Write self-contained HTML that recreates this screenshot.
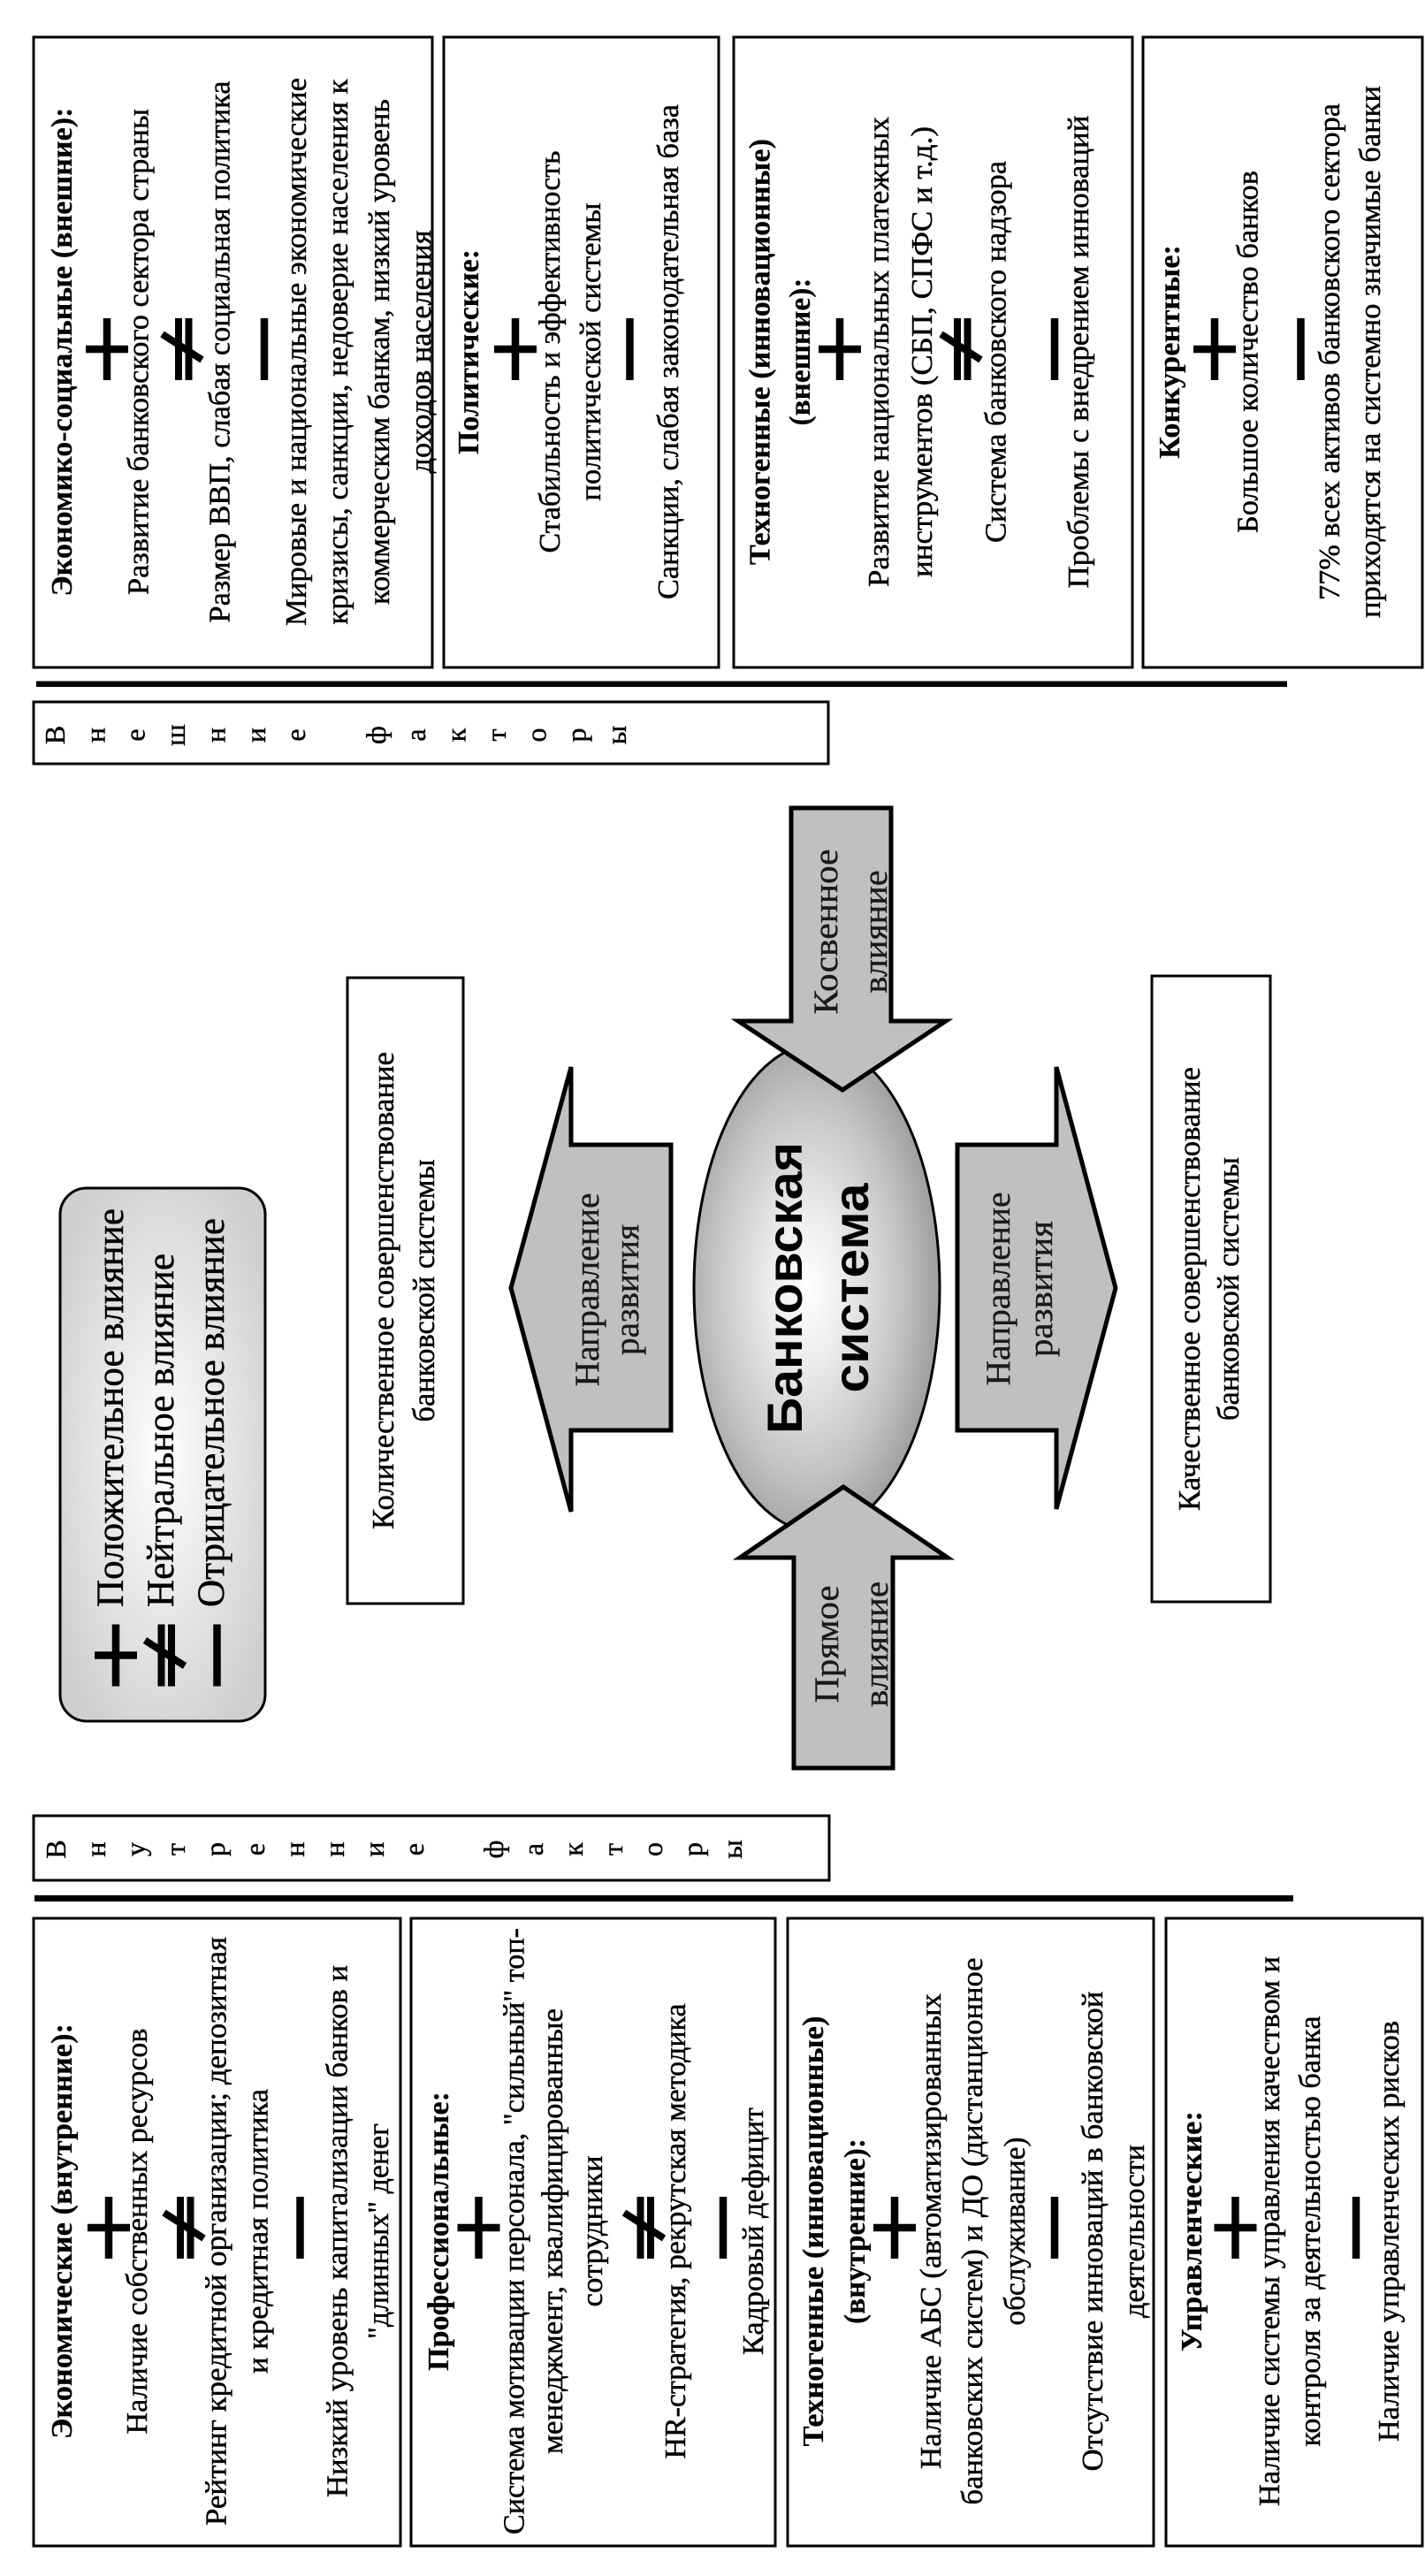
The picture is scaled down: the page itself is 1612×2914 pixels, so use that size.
<!DOCTYPE html>
<html><head><meta charset="utf-8">
<style>
html,body{margin:0;padding:0;background:#fff;}
body{width:1612px;height:2914px;overflow:hidden;}
svg{display:block;}
.t{font-family:"Liberation Serif","Times New Roman",serif;font-size:34px;fill:#000;stroke:#000;stroke-width:0.45px;}
.b{font-weight:bold;stroke-width:0.2px;}
.c{text-anchor:middle;}
.s{font-family:"Liberation Serif","Times New Roman",serif;font-size:32px;fill:#000;text-anchor:middle;stroke:#000;stroke-width:0.4px;}
.a{font-family:"Liberation Serif","Times New Roman",serif;font-size:39px;fill:#1a1a1a;text-anchor:middle;stroke:#1a1a1a;stroke-width:0.35px;}
.bx{fill:#fff;stroke:#000;stroke-width:3;}
</style></head><body>
<svg xmlns="http://www.w3.org/2000/svg" width="1612" height="2914" viewBox="0 0 1612 2914">
<defs>
<radialGradient id="eg" cx="50%" cy="46%" r="52%">
<stop offset="0" stop-color="#ffffff"/><stop offset="0.3" stop-color="#ececec"/><stop offset="0.75" stop-color="#c2c2c2"/><stop offset="1" stop-color="#a2a2a2"/>
</radialGradient>
<radialGradient id="lg" cx="50%" cy="50%" r="60%">
<stop offset="0" stop-color="#ffffff"/><stop offset="1" stop-color="#cfcfcf"/>
</radialGradient>
</defs>
<rect x="0" y="0" width="1612" height="2914" fill="#fff"/>
<g transform="translate(0 2914) rotate(-90)">

<!-- External boxes -->
<rect class="bx" x="2159" y="38" width="713" height="451"/>
<rect class="bx" x="2159" y="502" width="713" height="311"/>
<rect class="bx" x="2159" y="830" width="713" height="451"/>
<rect class="bx" x="2159" y="1293" width="713" height="316"/>

<!-- Internal boxes -->
<rect class="bx" x="34" y="38" width="710" height="415"/>
<rect class="bx" x="34" y="465" width="710" height="412"/>
<rect class="bx" x="34" y="891" width="710" height="414"/>
<rect class="bx" x="34" y="1319" width="710" height="290"/>

<!-- thick lines -->
<rect x="2137" y="41" width="6.5" height="1415" fill="#000"/>
<rect x="763" y="39" width="7" height="1424" fill="#000"/>

<!-- factor label boxes -->
<rect class="bx" x="2050" y="38" width="70" height="899"/>
<rect class="bx" x="787" y="38" width="73" height="900"/>

<!-- legend -->
<rect x="967" y="68" width="603" height="232" rx="30" ry="30" fill="url(#lg)" stroke="#000" stroke-width="3"/>

<!-- outcome boxes -->
<rect class="bx" x="1100" y="393" width="708" height="131"/>
<rect class="bx" x="1102" y="1303" width="708" height="134"/>

<!-- ellipse -->
<ellipse cx="1457" cy="924" rx="276" ry="139" fill="url(#eg)" stroke="#000" stroke-width="3"/>

<!-- arrows -->
<polygon points="1457,578 1707,646 1619,646 1619,759 1296,759 1296,646 1204,646" fill="#c0c0c0" stroke="#000" stroke-width="5" stroke-linejoin="miter"/>
<polygon points="1457,1262 1707,1195 1619,1195 1619,1083 1296,1083 1296,1195 1207,1195" fill="#c0c0c0" stroke="#000" stroke-width="5" stroke-linejoin="miter"/>
<polygon points="2000,895 1759,895 1759,835 1681,953 1759,1070 1759,1008 2000,1008" fill="#c0c0c0" stroke="#000" stroke-width="5" stroke-linejoin="miter"/>
<polygon points="914,898 1152,898 1152,837 1232,954 1152,1072 1152,1010 914,1010" fill="#c0c0c0" stroke="#000" stroke-width="5" stroke-linejoin="miter"/>

<!-- symbols external (cx 2519) -->
<g fill="#000">
<path d="M2484 116.75h70v8.5h-70z M2514.75 97h8.5v48h-8.5z"/>
<rect x="2484" y="198" width="70" height="8"/><rect x="2484" y="209.5" width="70" height="8"/>
<rect x="2484" y="294.75" width="70" height="8.5"/>
<path d="M2484 578.75h70v8.5h-70z M2514.75 559h8.5v48h-8.5z"/>
<rect x="2484" y="708.25" width="70" height="8.5"/>
<path d="M2484 945.75h70v8.5h-70z M2514.75 926h8.5v48h-8.5z"/>
<rect x="2484" y="1079" width="70" height="8"/><rect x="2484" y="1090.5" width="70" height="8"/>
<rect x="2484" y="1188.75" width="70" height="8.5"/>
<path d="M2484 1369.75h70v8.5h-70z M2514.75 1350h8.5v48h-8.5z"/>
<rect x="2484" y="1467.25" width="70" height="8.5"/>

<!-- internal (cx 394) -->
<path d="M359 118.75h70v8.5h-70z M389.75 99h8.5v48h-8.5z"/>
<rect x="359" y="200" width="70" height="8"/><rect x="359" y="211.5" width="70" height="8"/>
<rect x="359" y="335.25" width="70" height="8.5"/>
<path d="M359 537.25h70v8.5h-70z M389.75 517.5h8.5v48h-8.5z"/>
<rect x="359" y="720.5" width="70" height="8"/><rect x="359" y="732" width="70" height="8"/>
<rect x="359" y="813.75" width="70" height="8.5"/>
<path d="M359 1007.75h70v8.5h-70z M389.75 988h8.5v48h-8.5z"/>
<rect x="359" y="1188.75" width="70" height="8.5"/>
<path d="M359 1393.25h70v8.5h-70z M389.75 1373.5h8.5v48h-8.5z"/>
<rect x="359" y="1529.75" width="70" height="8.5"/>

<!-- legend (cx 1041.5) -->
<path d="M1006.5 126.75h70v8.5h-70z M1037.25 107h8.5v48h-8.5z"/>
<rect x="1006.5" y="178.5" width="70" height="8"/><rect x="1006.5" y="190" width="70" height="8"/>
<rect x="1006.5" y="241.25" width="70" height="8.5"/>
</g>
<g stroke="#000" stroke-width="8" stroke-linecap="butt">
<line x1="2536" y1="183.5" x2="2507" y2="228.5"/>
<line x1="2536" y1="1064.5" x2="2507" y2="1109.5"/>
<line x1="411" y1="185.5" x2="382" y2="230.5"/>
<line x1="411" y1="706" x2="382" y2="751"/>
<line x1="1058.5" y1="164" x2="1029.5" y2="209"/>
</g>

<!-- External box 1 text -->
<text class="t b c" x="2516" y="81" textLength="553" lengthAdjust="spacingAndGlyphs">Экономико-социальные (внешние):</text>
<text class="t c" x="2516" y="167.5" textLength="550" lengthAdjust="spacingAndGlyphs">Развитие банковского сектора страны</text>
<text class="t c" x="2516" y="259.5" textLength="613" lengthAdjust="spacingAndGlyphs">Размер ВВП, слабая социальная политика</text>
<text class="t c" x="2516" y="346" textLength="620" lengthAdjust="spacingAndGlyphs">Мировые и национальные экономические</text>
<text class="t c" x="2516" y="393" textLength="617" lengthAdjust="spacingAndGlyphs">кризисы, санкции, недоверие населения к</text>
<text class="t c" x="2516" y="440" textLength="572" lengthAdjust="spacingAndGlyphs">коммерческим банкам, низкий уровень</text>
<text class="t c" x="2516" y="487" textLength="275" lengthAdjust="spacingAndGlyphs">доходов населения</text>

<!-- External box 2 -->
<text class="t b c" x="2516" y="541" textLength="232" lengthAdjust="spacingAndGlyphs">Политические:</text>
<text class="t c" x="2516" y="633" textLength="455" lengthAdjust="spacingAndGlyphs">Стабильность и эффективность</text>
<text class="t c" x="2516" y="679" textLength="337" lengthAdjust="spacingAndGlyphs">политической системы</text>
<text class="t c" x="2516" y="767" textLength="560" lengthAdjust="spacingAndGlyphs">Санкции, слабая законодательная база</text>

<!-- External box 3 -->
<text class="t b c" x="2516" y="870.5" textLength="482" lengthAdjust="spacingAndGlyphs">Техногенные (инновационные)</text>
<text class="t b c" x="2516" y="916" textLength="167" lengthAdjust="spacingAndGlyphs">(внешние):</text>
<text class="t c" x="2516" y="1005" textLength="532" lengthAdjust="spacingAndGlyphs">Развитие национальных платежных</text>
<text class="t c" x="2516" y="1054" textLength="510" lengthAdjust="spacingAndGlyphs">инструментов (СБП, СПФС и т.д.)</text>
<text class="t c" x="2516" y="1137.5" textLength="432" lengthAdjust="spacingAndGlyphs">Система банковского надзора</text>
<text class="t c" x="2516" y="1231" textLength="535" lengthAdjust="spacingAndGlyphs">Проблемы с внедрением инноваций</text>

<!-- External box 4 -->
<text class="t b c" x="2516" y="1334" textLength="242" lengthAdjust="spacingAndGlyphs">Конкурентные:</text>
<text class="t c" x="2516" y="1422.5" textLength="410" lengthAdjust="spacingAndGlyphs">Большое количество банков</text>
<text class="t c" x="2516" y="1515" textLength="562" lengthAdjust="spacingAndGlyphs">77% всех активов банковского сектора</text>
<text class="t c" x="2516" y="1561" textLength="602" lengthAdjust="spacingAndGlyphs">приходятся на системно значимые банки</text>

<!-- Internal box A -->
<text class="t b c" x="390" y="81" textLength="470" lengthAdjust="spacingAndGlyphs">Экономические (внутренние):</text>
<text class="t c" x="390" y="166" textLength="459" lengthAdjust="spacingAndGlyphs">Наличие собственных ресурсов</text>
<text class="t c" x="390" y="255.5" textLength="666" lengthAdjust="spacingAndGlyphs">Рейтинг кредитной организации; депозитная</text>
<text class="t c" x="390" y="302.5" textLength="322" lengthAdjust="spacingAndGlyphs">и кредитная политика</text>
<text class="t c" x="390" y="392.5" textLength="602" lengthAdjust="spacingAndGlyphs">Низкий уровень капитализации банков и</text>
<text class="t c" x="390" y="439" textLength="244" lengthAdjust="spacingAndGlyphs">"длинных" денег</text>

<!-- Internal box B -->
<text class="t b c" x="390" y="507" textLength="316" lengthAdjust="spacingAndGlyphs">Профессиональные:</text>
<text class="t c" x="390" y="592.5" textLength="686" lengthAdjust="spacingAndGlyphs">Система мотивации персонала, "сильный" топ-</text>
<text class="t c" x="390" y="636" textLength="504" lengthAdjust="spacingAndGlyphs">менеджмент, квалифицированные</text>
<text class="t c" x="390" y="681" textLength="171" lengthAdjust="spacingAndGlyphs">сотрудники</text>
<text class="t c" x="390" y="775" textLength="515" lengthAdjust="spacingAndGlyphs">HR-стратегия, рекрутская методика</text>
<text class="t c" x="390" y="863" textLength="280" lengthAdjust="spacingAndGlyphs">Кадровый дефицит</text>

<!-- Internal box C -->
<text class="t b c" x="390" y="931" textLength="487" lengthAdjust="spacingAndGlyphs">Техногенные (инновационные)</text>
<text class="t b c" x="390" y="978" textLength="210" lengthAdjust="spacingAndGlyphs">(внутренние):</text>
<text class="t c" x="390" y="1064" textLength="538" lengthAdjust="spacingAndGlyphs">Наличие АБС (автоматизированных</text>
<text class="t c" x="390" y="1111" textLength="619" lengthAdjust="spacingAndGlyphs">банковских систем) и ДО (дистанционное</text>
<text class="t c" x="390" y="1159" textLength="213" lengthAdjust="spacingAndGlyphs">обслуживание)</text>
<text class="t c" x="390" y="1247" textLength="543" lengthAdjust="spacingAndGlyphs">Отсутствие инноваций в банковской</text>
<text class="t c" x="390" y="1294" textLength="196" lengthAdjust="spacingAndGlyphs">деятельности</text>

<!-- Internal box D -->
<text class="t b c" x="390" y="1359" textLength="272" lengthAdjust="spacingAndGlyphs">Управленческие:</text>
<text class="t c" x="390" y="1447" textLength="622" lengthAdjust="spacingAndGlyphs">Наличие системы управления качеством и</text>
<text class="t c" x="390" y="1493" textLength="487" lengthAdjust="spacingAndGlyphs">контроля за деятельностью банка</text>
<text class="t c" x="390" y="1582" textLength="476" lengthAdjust="spacingAndGlyphs">Наличие управленческих рисков</text>

<!-- Legend text -->
<text class="t" style="font-size:43px" x="1096" y="139" textLength="451" lengthAdjust="spacingAndGlyphs">Положительное влияние</text>
<text class="t" style="font-size:43px" x="1096" y="196" textLength="400" lengthAdjust="spacingAndGlyphs">Нейтральное влияние</text>
<text class="t" style="font-size:43px" x="1096" y="253" textLength="440" lengthAdjust="spacingAndGlyphs">Отрицательное влияние</text>

<!-- Outcome boxes text -->
<text class="t c" style="font-size:35px" x="1454" y="445" textLength="540" lengthAdjust="spacingAndGlyphs">Количественное совершенствование</text>
<text class="t c" style="font-size:35px" x="1454" y="491" textLength="297" lengthAdjust="spacingAndGlyphs">банковской системы</text>
<text class="t c" style="font-size:35px" x="1456" y="1357" textLength="502" lengthAdjust="spacingAndGlyphs">Качественное совершенствование</text>
<text class="t c" style="font-size:35px" x="1456" y="1401" textLength="298" lengthAdjust="spacingAndGlyphs">банковской системы</text>

<!-- Arrow texts -->
<text class="a" x="1455" y="677" textLength="219" lengthAdjust="spacingAndGlyphs">Направление</text>
<text class="a" x="1455" y="722" textLength="148" lengthAdjust="spacingAndGlyphs">развития</text>
<text class="a" x="1456" y="1142" textLength="219" lengthAdjust="spacingAndGlyphs">Направление</text>
<text class="a" x="1456" y="1190" textLength="154" lengthAdjust="spacingAndGlyphs">развития</text>
<text class="a" x="1860" y="947" textLength="187" lengthAdjust="spacingAndGlyphs">Косвенное</text>
<text class="a" x="1860" y="1003" textLength="139" lengthAdjust="spacingAndGlyphs">влияние</text>
<text class="a" x="1054" y="948" textLength="133" lengthAdjust="spacingAndGlyphs">Прямое</text>
<text class="a" x="1054" y="1004" textLength="142" lengthAdjust="spacingAndGlyphs">влияние</text>

<!-- Ellipse text -->
<text x="1457" y="907" text-anchor="middle" style="font-family:'Liberation Sans',Arial,sans-serif;font-weight:bold;font-size:56px" textLength="330" lengthAdjust="spacingAndGlyphs">Банковская</text>
<text x="1457" y="982" text-anchor="middle" style="font-family:'Liberation Sans',Arial,sans-serif;font-weight:bold;font-size:56px" textLength="237" lengthAdjust="spacingAndGlyphs">система</text>

<!-- Внешние факторы (stacked letters) -->
<text class="s" x="2082.5" y="73">В</text>
<text class="s" x="2082.5" y="118.4">н</text>
<text class="s" x="2082.5" y="163.7">е</text>
<text class="s" x="2082.5" y="209.1">ш</text>
<text class="s" x="2082.5" y="254.4">н</text>
<text class="s" x="2082.5" y="299.8">и</text>
<text class="s" x="2082.5" y="345.2">е</text>
<text class="s" x="2082.5" y="435.9">ф</text>
<text class="s" x="2082.5" y="481.2">а</text>
<text class="s" x="2082.5" y="526.6">к</text>
<text class="s" x="2082.5" y="572">т</text>
<text class="s" x="2082.5" y="617.3">о</text>
<text class="s" x="2082.5" y="662.7">р</text>
<text class="s" x="2082.5" y="708">ы</text>

<!-- Внутренние факторы -->
<text class="s" x="822" y="74">В</text>
<text class="s" x="822" y="119">н</text>
<text class="s" x="822" y="164">у</text>
<text class="s" x="822" y="209">т</text>
<text class="s" x="822" y="254">р</text>
<text class="s" x="822" y="299">е</text>
<text class="s" x="822" y="344">н</text>
<text class="s" x="822" y="389">н</text>
<text class="s" x="822" y="434">и</text>
<text class="s" x="822" y="479">е</text>
<text class="s" x="822" y="569">ф</text>
<text class="s" x="822" y="614">а</text>
<text class="s" x="822" y="659">к</text>
<text class="s" x="822" y="704">т</text>
<text class="s" x="822" y="749">о</text>
<text class="s" x="822" y="794">р</text>
<text class="s" x="822" y="839">ы</text>

</g>
</svg>
</body></html>
